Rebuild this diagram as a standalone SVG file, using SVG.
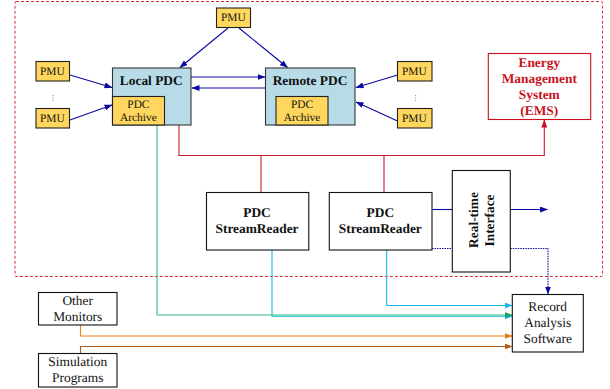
<svg xmlns="http://www.w3.org/2000/svg" width="610" height="389" viewBox="0 0 610 389">
<style>
text{font-family:"Liberation Serif","Times New Roman",serif;fill:#111;text-anchor:middle;text-rendering:geometricPrecision}
.s{font-size:11.4px}.n{font-size:13.4px}.b{font-size:13.4px;font-weight:bold}.e{fill:#c81020}
.pmu{fill:#ffd75e;stroke:#222;stroke-width:1.1}
.pdc{fill:#b7dce8;stroke:#333;stroke-width:1.1}
.w{fill:#fff;stroke:#111;stroke-width:1.1}
.c{fill:none;stroke-width:1.1}
.blue{stroke:#0a0aa0}.red{stroke:#c81e28}.green{stroke:#32c080}.cyan{stroke:#18b4ea}.orange{stroke:#f08020}.brown{stroke:#b05c18}
</style>
<defs>
<marker id="ab" markerWidth="8" markerHeight="6" refX="7.500" refY="3" orient="auto" markerUnits="userSpaceOnUse"><path d="M0 0L8 3L0 6z" fill="#0a0aa0"/></marker>
<marker id="ar" markerWidth="8" markerHeight="6" refX="7.500" refY="3" orient="auto" markerUnits="userSpaceOnUse"><path d="M0 0L8 3L0 6z" fill="#c81020"/></marker>
<marker id="ag" markerWidth="8" markerHeight="6" refX="7.500" refY="3" orient="auto" markerUnits="userSpaceOnUse"><path d="M0 0L8 3L0 6z" fill="#10a860"/></marker>
<marker id="ac" markerWidth="8" markerHeight="6" refX="7.500" refY="3" orient="auto" markerUnits="userSpaceOnUse"><path d="M0 0L8 3L0 6z" fill="#10b0f0"/></marker>
<marker id="ao" markerWidth="8" markerHeight="6" refX="7.500" refY="3" orient="auto" markerUnits="userSpaceOnUse"><path d="M0 0L8 3L0 6z" fill="#f07810"/></marker>
<marker id="an" markerWidth="8" markerHeight="6" refX="7.500" refY="3" orient="auto" markerUnits="userSpaceOnUse"><path d="M0 0L8 3L0 6z" fill="#b05c18"/></marker>
</defs>
<rect x="15" y="1.500" width="587.500" height="275" rx="1" fill="none" stroke="#d8303c" stroke-width="1" stroke-dasharray="3 2"/>
<g id="connectors">
<path class="c blue" marker-end="url(#ab)" d="M228 28L180 67.500"/>
<path class="c blue" marker-end="url(#ab)" d="M239 28L287.500 67.500"/>
<path class="c blue" marker-end="url(#ab)" d="M70 75L112 87.500"/>
<path class="c blue" marker-end="url(#ab)" d="M70 120L112 105"/>
<path class="c blue" marker-end="url(#ab)" d="M191 77H265"/>
<path class="c blue" marker-end="url(#ab)" d="M265 88H192"/>
<path class="c blue" marker-end="url(#ab)" d="M397.500 75L356 87.500"/>
<path class="c blue" marker-end="url(#ab)" d="M397.500 121L356 102"/>
<path class="c red" marker-end="url(#ar)" d="M179 125V155.500H544.300V120"/>
<path class="c red" d="M261 155.500V192.500M384 155.500V192.500"/>
<path class="c cyan" marker-end="url(#ac)" d="M272 250V316.300H512"/>
<path class="c green" marker-end="url(#ag)" d="M157 125V315H512"/>
<path class="c cyan" marker-end="url(#ac)" d="M386.700 250V305.500H512"/>
<path class="c orange" marker-end="url(#ao)" d="M80.500 325V336H512"/>
<path class="c brown" marker-end="url(#an)" d="M80.500 353.500V346.500H512"/>
<path class="c blue" d="M432 209.500H452.300"/>
<path class="c blue" marker-end="url(#ab)" d="M510.300 209.500H547.500"/>
<path class="c blue" stroke-dasharray="1.500 1" d="M432 248.500H452.300"/>
<path class="c blue" stroke-dasharray="1.500 1" marker-end="url(#ab)" d="M510.300 248.500H548V294"/>
</g>
<g id="pmu-top"><rect class="pmu" x="216.500" y="8" width="34" height="19.500"/><text class="s" x="233.300" y="21">PMU</text></g>
<g id="pmu-left-1"><rect class="pmu" x="36" y="61.500" width="33.500" height="19.500"/><text class="s" x="52.300" y="75">PMU</text></g>
<g id="dots-left"><text style="font-size:7px" x="53" y="100">⋮</text></g>
<g id="pmu-left-2"><rect class="pmu" x="36" y="108.500" width="33.500" height="19.500"/><text class="s" x="52.300" y="122">PMU</text></g>
<g id="pmu-right-1"><rect class="pmu" x="397.500" y="61.500" width="34.500" height="19.500"/><text class="s" x="414.300" y="75">PMU</text></g>
<g id="dots-right"><text style="font-size:7px" x="415.500" y="100">⋮</text></g>
<g id="pmu-right-2"><rect class="pmu" x="397.500" y="108.500" width="34.500" height="19.500"/><text class="s" x="414.300" y="122">PMU</text></g>
<g id="local-pdc"><rect class="pdc" x="112.500" y="68" width="78.500" height="57"/><text class="b" x="151.300" y="85">Local PDC</text>
<rect class="pmu" x="112.500" y="96.500" width="52" height="28.500"/><text class="s" x="138.400" y="108">PDC</text><text class="s" x="138.400" y="120.800">Archive</text></g>
<g id="remote-pdc"><rect class="pdc" x="265.500" y="68" width="89.500" height="57"/><text class="b" x="310" y="85">Remote PDC</text>
<rect class="pmu" x="276" y="96.500" width="52" height="28.500"/><text class="s" x="302" y="108">PDC</text><text class="s" x="302" y="120.800">Archive</text></g>
<g id="ems"><rect x="488.300" y="53.500" width="102.400" height="66" fill="#fff" stroke="#c81020" stroke-width="1.1"/>
<text class="b e" x="539.300" y="66.700">Energy</text><text class="b e" x="539.300" y="82.700">Management</text><text class="b e" x="539.300" y="98.700">System</text><text class="b e" x="539.300" y="115">(EMS)</text></g>
<g id="streamreader-1"><rect class="w" x="206.500" y="192.500" width="102.300" height="57.500"/><text class="b" x="257" y="217">PDC</text><text class="b" x="257" y="232.700">StreamReader</text></g>
<g id="streamreader-2"><rect class="w" x="329.300" y="192.500" width="102.700" height="57.500"/><text class="b" x="380.300" y="217">PDC</text><text class="b" x="380.300" y="232.700">StreamReader</text></g>
<g id="real-time-interface"><rect class="w" x="452.300" y="170.500" width="58" height="101.500"/><text class="b" transform="translate(478 220) rotate(-90)">Real-time</text><text class="b" transform="translate(493.700 220.500) rotate(-90)">Interface</text></g>
<g id="record-analysis"><rect class="w" x="512.300" y="294.500" width="71" height="57.500"/><text class="n" x="547.700" y="310.700">Record</text><text class="n" x="547.700" y="327.300">Analysis</text><text class="n" x="547.700" y="343">Software</text></g>
<g id="other-monitors"><rect class="w" x="38.500" y="292.500" width="78.500" height="32.500"/><text class="n" x="77.700" y="305.300">Other</text><text class="n" x="77.700" y="321">Monitors</text></g>
<g id="simulation-programs"><rect class="w" x="38.500" y="353.500" width="78.500" height="33.500"/><text class="n" x="77.700" y="366">Simulation</text><text class="n" x="77.700" y="382">Programs</text></g>
</svg>
